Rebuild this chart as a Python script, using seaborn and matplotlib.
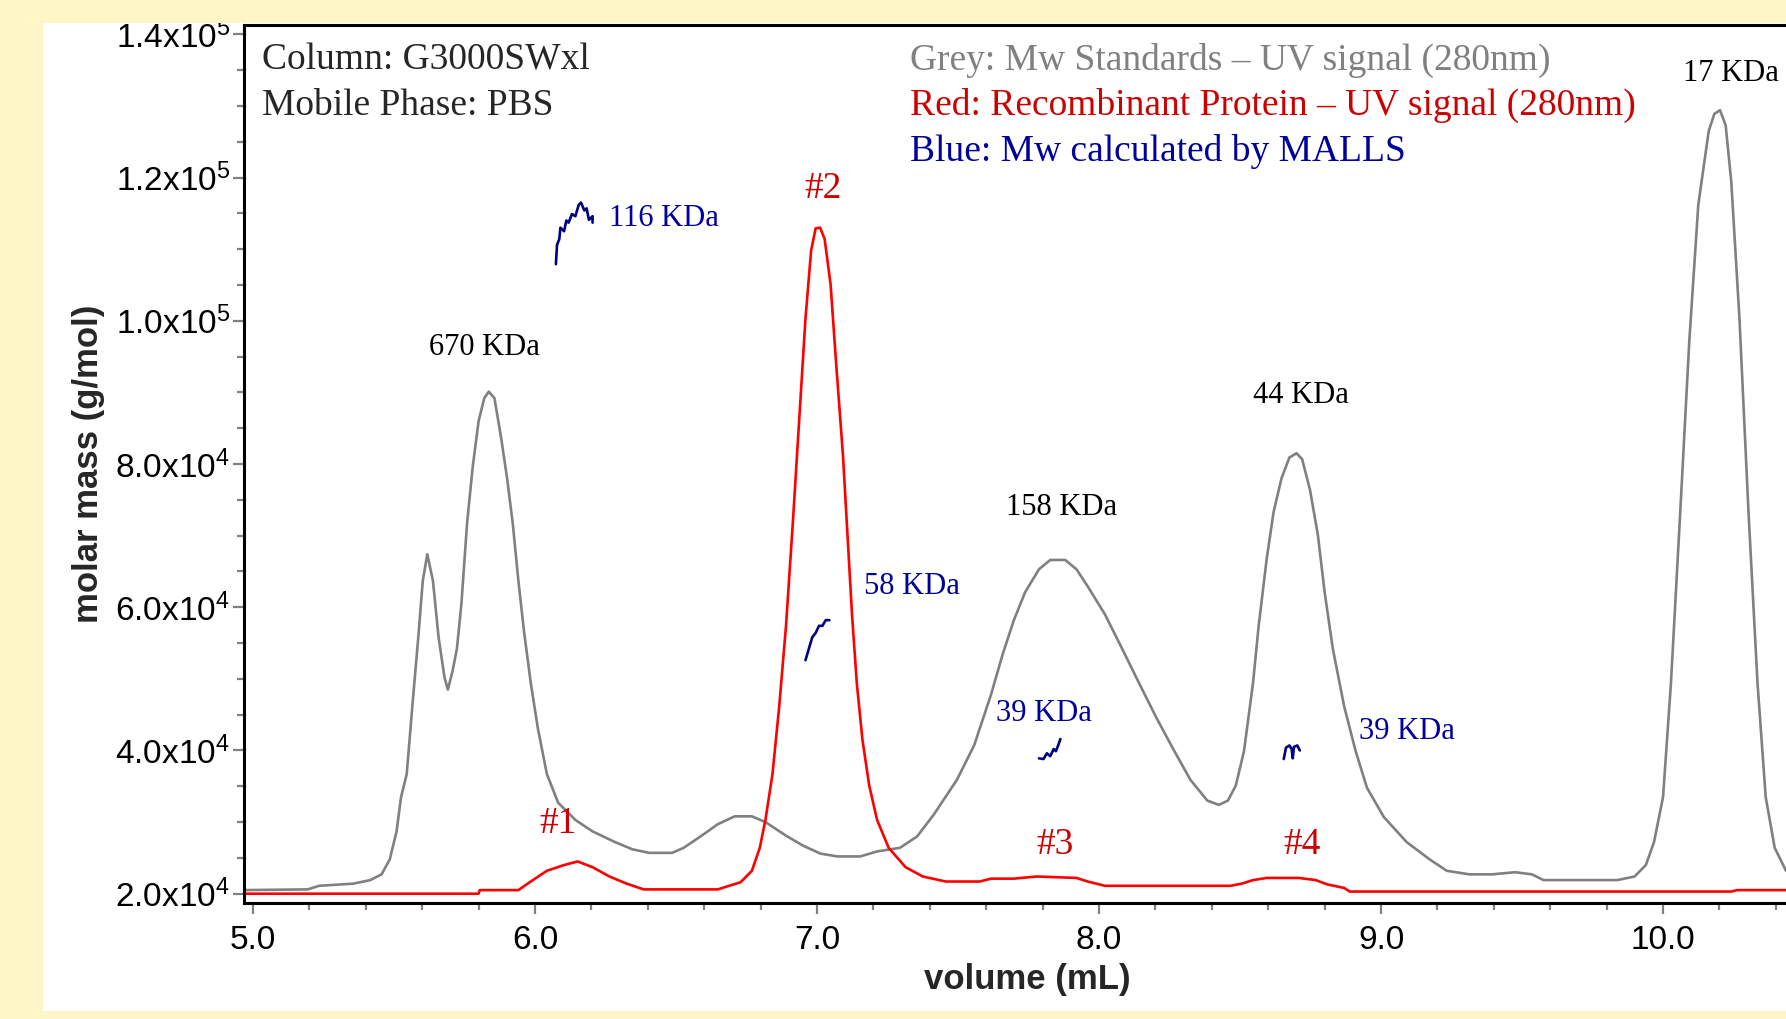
import matplotlib
matplotlib.use("Agg")
import matplotlib.pyplot as plt
from matplotlib import font_manager
from matplotlib.patches import Rectangle
from matplotlib.ticker import MultipleLocator, FuncFormatter
import seaborn as sns
import numpy as np

# Grey: Mw standards, UV 280nm (scaled to the molar mass axis)
grey_vol = [4.968, 5.194, 5.234, 5.355, 5.416, 5.456, 5.485, 5.509, 5.525, 5.545,
            5.565, 5.586, 5.602, 5.618, 5.638, 5.658, 5.679, 5.691, 5.707, 5.723,
            5.739, 5.759, 5.779, 5.800, 5.820, 5.836, 5.856, 5.880, 5.901, 5.921,
            5.941, 5.961, 5.985, 6.010, 6.042, 6.082, 6.143, 6.204, 6.284, 6.345,
            6.405, 6.486, 6.527, 6.587, 6.648, 6.708, 6.769, 6.817, 6.890, 6.951,
            7.012, 7.072, 7.153, 7.213, 7.294, 7.355, 7.415, 7.496, 7.557, 7.617,
            7.658, 7.698, 7.738, 7.787, 7.827, 7.880, 7.920, 7.960, 8.021, 8.082,
            8.142, 8.203, 8.263, 8.324, 8.384, 8.425, 8.457, 8.485, 8.514, 8.546,
            8.566, 8.595, 8.619, 8.647, 8.675, 8.700, 8.720, 8.748, 8.776, 8.800,
            8.829, 8.869, 8.910, 8.950, 9.010, 9.091, 9.172, 9.233, 9.313, 9.394,
            9.475, 9.535, 9.576, 9.677, 9.838, 9.899, 9.939, 9.968, 10.000, 10.028,
            10.061, 10.093, 10.125, 10.162, 10.182, 10.202, 10.222, 10.242, 10.271, 10.303,
            10.335, 10.364, 10.396, 10.436]
grey_sig = [20500, 20600, 21100, 21400, 21900, 22700, 24800, 28700, 33500, 36700,
            46200, 55800, 63700, 67400, 63700, 55800, 50200, 48500, 51000, 54200,
            60500, 71700, 79600, 86000, 89200, 90100, 89200, 83600, 78000, 71700,
            63700, 56600, 49400, 43100, 36700, 32700, 30300, 28700, 27200, 26200,
            25700, 25700, 26400, 28000, 29700, 30800, 30800, 30000, 28100, 26700,
            25600, 25200, 25200, 25900, 26400, 28000, 31100, 35900, 40700, 47800,
            53400, 58200, 62100, 65300, 66600, 66600, 65300, 62900, 59000, 54200,
            49400, 44600, 40200, 35900, 33000, 32400, 33000, 35100, 39900, 49400,
            57400, 66900, 73300, 78000, 80900, 81500, 80700, 76400, 70100, 62100,
            54200, 46200, 39900, 34800, 30700, 27200, 24800, 23200, 22700, 22700,
            23000, 22700, 21900, 21900, 21900, 22400, 24000, 27200, 33500, 49400,
            73300, 97100, 116200, 126500, 128900, 129400, 127300, 119400, 100300, 73300,
            49400, 33500, 26400, 23200]

# Red: recombinant protein, UV 280nm
red_vol = [4.968, 5.800, 5.804, 5.941, 5.981, 6.042, 6.103, 6.151, 6.204, 6.264,
           6.325, 6.385, 6.648, 6.688, 6.729, 6.769, 6.797, 6.817, 6.842, 6.866,
           6.890, 6.914, 6.939, 6.959, 6.979, 6.995, 7.011, 7.027, 7.048, 7.068,
           7.092, 7.108, 7.124, 7.141, 7.161, 7.185, 7.213, 7.254, 7.314, 7.375,
           7.456, 7.577, 7.617, 7.698, 7.779, 7.920, 7.960, 8.021, 8.223, 8.465,
           8.506, 8.546, 8.595, 8.708, 8.768, 8.809, 8.869, 8.889, 10.242, 10.262,
           10.436]
red_sig = [20000, 20000, 20500, 20500, 21600, 23200, 24000, 24500, 23700, 22400,
           21400, 20600, 20600, 21100, 21600, 23200, 26400, 30300, 36700, 46200,
           57400, 71700, 87600, 100300, 109800, 112900, 113000, 111400, 105100, 93900,
           81200, 70100, 59000, 49400, 41500, 35100, 30300, 26400, 23700, 22400,
           21700, 21700, 22100, 22100, 22400, 22200, 21700, 21100, 21100, 21100,
           21400, 21900, 22200, 22200, 21900, 21300, 20800, 20300, 20300, 20500,
           20500]

# Blue: Mw calculated by MALLS (four short segments)
malls_1_vol = [6.074, 6.078, 6.086, 6.090, 6.103, 6.111, 6.119, 6.131, 6.143, 6.155,
               6.163, 6.175, 6.183, 6.191, 6.204, 6.204]
malls_1_mw = [107900, 110600, 111400, 113000, 112500, 114000, 113700, 114900, 114600, 116200,
              116500, 115400, 115700, 114100, 114600, 113700]
malls_2_vol = [6.959, 6.971, 6.983, 6.995, 7.007, 7.019, 7.031, 7.044]
malls_2_mw = [52600, 54200, 55800, 56400, 57400, 57400, 58200, 58200]
malls_3_vol = [7.787, 7.803, 7.815, 7.827, 7.839, 7.847, 7.855, 7.863]
malls_3_mw = [38900, 38800, 39600, 39200, 40200, 39900, 40700, 41600]
malls_4_vol = [8.655, 8.663, 8.675, 8.683, 8.687, 8.691, 8.703, 8.712]
malls_4_mw = [38800, 40400, 40700, 40200, 38900, 40500, 40700, 40000]

# labels of the standards peaks (black) and MALLS values (blue)
std_labels = ["670 KDa", "158 KDa", "44 KDa", "17 KDa"]
std_label_vol = [5.820, 7.868, 8.716, 10.242]
std_label_y = [96300, 73900, 89600, 134500]
malls_labels = ["116 KDa", "58 KDa", "39 KDa", "39 KDa"]
malls_label_vol = [6.264, 7.165, 7.633, 8.922]
malls_label_y = [114300, 62900, 45100, 42700]
peak_labels = ["#1", "#2", "#3", "#4"]
peak_label_vol = [6.082, 7.023, 7.843, 8.720]
peak_label_y = [29700, 118500, 26800, 26800]

BEIGE = "#fff5c6"
GREY = "#808080"
RED = "#ff0000"
RED_TXT = "#cc0000"
NAVY = "#000080"
NAVY_TXT = "#00009c"

sns.set_style("ticks")
names = {f.name for f in font_manager.fontManager.ttflist}
narrow = "Liberation Sans Narrow" in names
sans = "Liberation Sans Narrow" if narrow else "Liberation Sans"
plt.rcParams["font.family"] = [sans, "Liberation Sans", "DejaVu Sans"]
plt.rcParams["mathtext.fontset"] = "custom"
plt.rcParams["mathtext.rm"] = sans
plt.rcParams["mathtext.it"] = sans
plt.rcParams["mathtext.bf"] = sans
serif = ["Liberation Serif", "DejaVu Serif"]
tick_size = 27 if narrow else 24
lab_size = 29 if narrow else 25

W, H = 1786, 1019
fig = plt.figure(figsize=(W / 100, H / 100), dpi=100)
fig.patch.set_facecolor(BEIGE)
fig.patches.append(Rectangle((43 / W, 8 / H), 1 - 43 / W, 1 - 31 / H,
                             transform=fig.transFigure, facecolor="white",
                             edgecolor="none", zorder=0.5))
fig.patches.append(Rectangle((0, 1 - 23 / H), 1, 23 / H, transform=fig.transFigure,
                             facecolor=BEIGE, edgecolor="none", zorder=5))

ax = fig.add_axes([244 / W, 1 - 903 / H, 1 - 244 / W, (903 - 25) / H])
ax.set_zorder(1)
ax.set_facecolor("none")

sns.lineplot(x=grey_vol, y=grey_sig, sort=False, estimator=None, color=GREY, lw=1.9, ax=ax)
sns.lineplot(x=red_vol, y=red_sig, sort=False, estimator=None, color=RED, lw=1.9, ax=ax)
for xs, ys in [(malls_1_vol, malls_1_mw), (malls_2_vol, malls_2_mw),
               (malls_3_vol, malls_3_mw), (malls_4_vol, malls_4_mw)]:
    sns.lineplot(x=xs, y=ys, sort=False, estimator=None, color=NAVY, lw=1.9, ax=ax)

ax.set_xlim(4.968, 10.436)
ax.set_ylim(18700, 141300)
ax.xaxis.set_major_locator(MultipleLocator(1.0))
ax.xaxis.set_minor_locator(MultipleLocator(0.2))
ax.yaxis.set_major_locator(MultipleLocator(20000))
ax.yaxis.set_minor_locator(MultipleLocator(5000))
ax.xaxis.set_major_formatter(FuncFormatter(lambda v, p: f"{v:.1f}"))


def sci(v, p):
    if v <= 0:
        return ""
    e = int(np.floor(np.log10(v)))
    return f"{v / 10 ** e:.1f}x10$^{{{e}}}$"


ax.yaxis.set_major_formatter(FuncFormatter(sci))
ax.tick_params(which="both", direction="out", color=GREY, width=1.6,
               labelsize=tick_size, labelcolor="black")
ax.tick_params(which="major", length=8)
ax.tick_params(which="minor", length=5)
ax.tick_params(axis="x", which="major", pad=8)
ax.tick_params(axis="y", which="major", pad=2)
for s in ["left", "bottom", "top"]:
    ax.spines[s].set_linewidth(2.2)
    ax.spines[s].set_color("black")
ax.spines["right"].set_visible(False)

ax.set_xlabel("volume (mL)", fontsize=lab_size, fontweight="bold")
ax.set_ylabel("molar mass (g/mol)", fontsize=lab_size, fontweight="bold")
ax.xaxis.set_label_coords(0.508, -0.068)
ax.yaxis.set_label_coords(-0.09, 0.5)

# header notes
ax.text(5.032, 136400, "Column: G3000SWxl", family=serif, fontsize=27, va="center")
ax.text(5.032, 130000, "Mobile Phase: PBS", family=serif, fontsize=27, va="center")
ax.text(7.330, 136400, "Grey: Mw Standards \u2013 UV signal (280nm)", family=serif,
        fontsize=27, va="center", color=GREY)
ax.text(7.330, 130000, "Red: Recombinant Protein \u2013 UV signal (280nm)", family=serif,
        fontsize=27, va="center", color=RED_TXT)
ax.text(7.330, 123600, "Blue: Mw calculated by MALLS", family=serif,
        fontsize=27, va="center", color=NAVY_TXT)

for t, x, y in zip(std_labels, std_label_vol, std_label_y):
    ax.text(x, y, t, family=serif, fontsize=22, ha="center", va="center", color="black")
for t, x, y in zip(malls_labels, malls_label_vol, malls_label_y):
    ax.text(x, y, t, family=serif, fontsize=22, ha="left", va="center", color=NAVY_TXT)
for t, x, y in zip(peak_labels, peak_label_vol, peak_label_y):
    ax.text(x, y, t, family=serif, fontsize=27, ha="center", va="center", color=RED_TXT)

fig.savefig("out.png", dpi=100, facecolor=BEIGE)
